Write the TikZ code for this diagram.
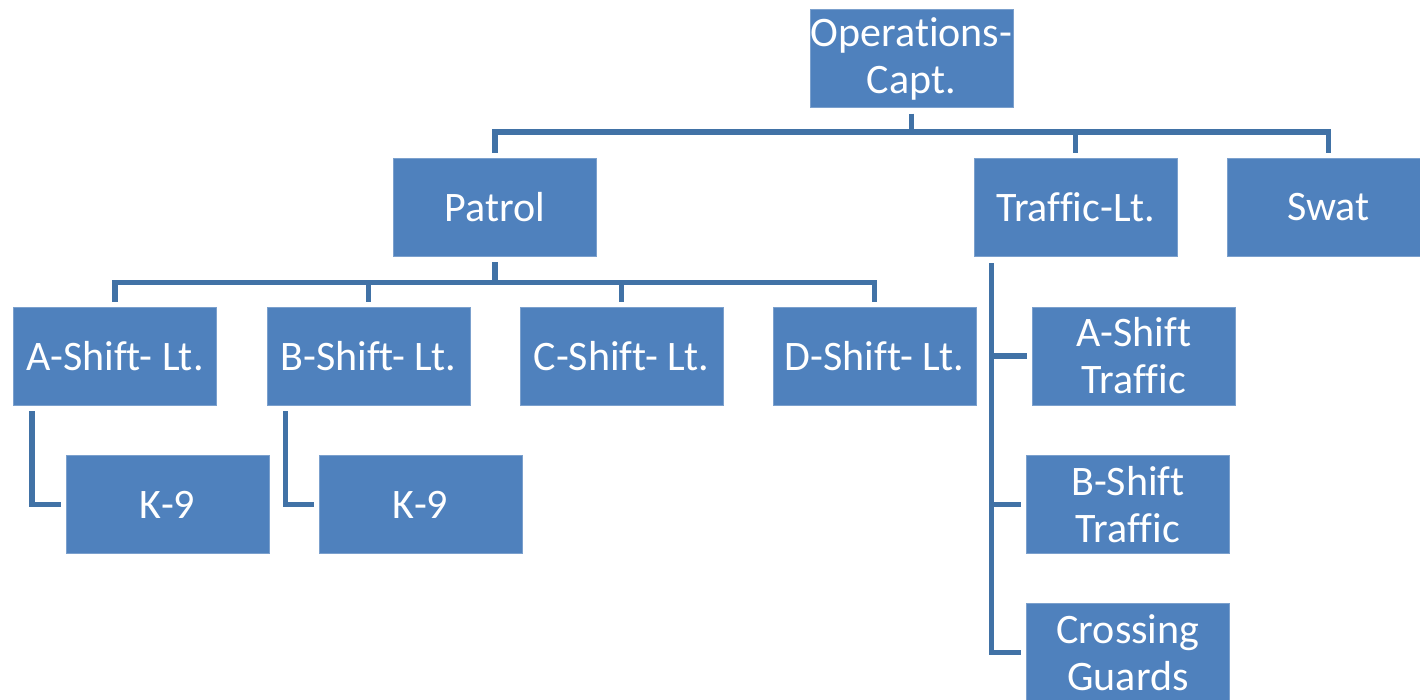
\documentclass[tikz,border=0pt]{standalone}
\usepackage{fontspec}
\setmainfont{Carlito}[Ligatures=NoCommon]
\usetikzlibrary{positioning, calc}
\definecolor{boxblue}{HTML}{4F81BD}
\definecolor{linkblue}{HTML}{4172A6}

\begin{document}
\begin{tikzpicture}[
                x=1pt, y=-1pt,
                unit/.style={rectangle, fill=boxblue, draw=boxblue!75!white, line width=0.6pt,
                    minimum width=203pt, minimum height=98pt, inner sep=0pt, text=white,
                    align=center, font=\fontsize{42}{47}\selectfont},
                link/.style={draw=linkblue, line width=5.5pt, shorten <=6pt, shorten >=5pt},
            ]
                \useasboundingbox (0,0) rectangle (1420,700);

                % Draw the top node
                \node[unit] (ops) at (911.5,58.5) {Operations-\\Capt.};

                % Draw the second level nodes
                \foreach \name / \x / \txt in {patrol/495/Patrol, traffic/1075.5/Traffic-Lt., swat/1328.5/Swat}
                    \node[unit] (\name) at (\x,207) {\txt};

                % Draw the shift lieutenants under patrol
                \foreach \name / \x in {A/115, B/368.5, C/621.5, D/874.5}
                    \node[unit] (shift-\name) at (\x,356) {\name-Shift- Lt.};

                % Draw the K-9 units
                \foreach \name / \x in {A/167.5, B/420.5}
                    \node[unit] (k9-\name) at (\x,504.5) {K-9};

                % Draw the traffic units
                \node[unit] (tshift-A) at (1134,356) {A-Shift\\Traffic};
                \node[unit] (tshift-B) at (1128,504.5) {B-Shift\\Traffic};
                \node[unit] (guards) at (1128,652.5) {Crossing\\Guards};

                % Connect the top node with the second level
                \foreach \dest in {patrol, traffic, swat}
                    \draw[link] (ops.south) -- ++(0,24) -| (\dest.north);

                % Connect patrol with every shift
                \foreach \dest in {A, B, C, D}
                    \draw[link] (patrol.south) -- ++(0,26) -| (shift-\dest.north);

                % Connect the shifts with their K-9 units
                \foreach \source in {A, B}
                    \draw[link] ([xshift=19pt]shift-\source.south west) |- (k9-\source.west);

                % Connect traffic with its units
                \foreach \dest in {tshift-A, tshift-B, guards}
                    \draw[link, shorten <=7pt] ([xshift=18pt]traffic.south west) |- (\dest.west);
            \end{tikzpicture}
\end{document}
